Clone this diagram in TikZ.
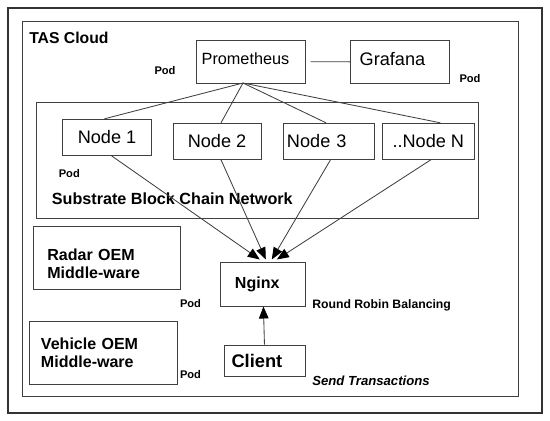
\documentclass[tikz,border=0pt]{standalone}
\usepackage{fontspec}
\setmainfont{Liberation Sans}
\usetikzlibrary{positioning,arrows.meta,calc}

\begin{document}
\begin{tikzpicture}[x=0.025cm,y=-0.025cm,
  bx/.style={draw=black!75,line width=0.7pt,inner sep=0pt},
  big/.style={font=\fontsize{12.9}{14}\selectfont},
  lbl/.style={font=\fontsize{11.4}{12.8}\selectfont\bfseries,inner sep=0pt},
  pod/.style={font=\fontsize{7.9}{9}\selectfont\bfseries,inner sep=0pt},
  ln/.style={draw=black!75,line width=0.6pt},
  ar/.style={ln,-{Triangle[length=3mm,width=2.4mm,color=black]}}]
\useasboundingbox (0,0) rectangle (550,420);
% frames
\draw[black!80,line width=0.9pt] (8,8) rectangle (542,413);
\draw[black!75,line width=0.7pt] (22,21) rectangle (518,396);
\node[lbl,font=\fontsize{11.2}{13}\selectfont\bfseries,anchor=west] (tas) at (29,38) {TAS Cloud};
% monitoring pods
\node[bx,minimum width=2.7cm,minimum height=1.075cm,inner xsep=0.1175cm,text width=2.465cm,align=left,
  text depth=0.15cm,font=\fontsize{11.55}{13}\selectfont] (prom) at (251,61.5) {Prometheus};
\node[bx,big,minimum width=2.475cm,minimum height=1.075cm,inner xsep=0.23cm,text width=2.015cm,align=left,
  text depth=0.15cm] (graf) at (400,62) {Grafana};
\draw[ln,shorten <=0.125cm] (prom) -- (graf);
\node[pod] (pod1) at (165,70.7) {Pod};
\node[pod] (pod2) at (470,79) {Pod};
% block chain network
\node[bx,minimum width=11.05cm,minimum height=2.875cm] (sbcn) at (257.8,160.5) {};
\node[bx,big,minimum width=2.225cm,minimum height=0.9cm] (n1) at (107,137.3) {Node 1};
\node[bx,big,minimum width=2.2cm,minimum height=0.9cm] (n2) at (217,141.3) {Node 2};
\node[bx,big,minimum width=2.275cm,minimum height=0.9cm,inner xsep=0.1cm,text width=2.075cm,align=left] (n3) at (328.5,141.3) {Node 3};
\node[bx,big,minimum width=2.3cm,minimum height=0.9cm] (nN) at (428.3,141.3) {..Node N};
\node[pod] (pod3) at (69.3,173.3) {Pod};
\node[lbl,font=\fontsize{11.5}{13}\selectfont\bfseries,anchor=west] (sbcnt) at (51.6,199) {Substrate Block Chain Network};
\coordinate (tap) at (243,83);
\draw[ln] (tap) -- ($(n1.north)+(-2.5,0)$);
\draw[ln] (tap) -- ($(n2.north)+(4,0)$);
\draw[ln] (tap) -- ($(n3.north)+(-2.5,0)$);
\draw[ln] (tap) -- ($(nN.north)+(12,0)$);
% middle-ware pods
\node[bx,lbl,minimum width=3.685cm,minimum height=1.565cm,inner xsep=0.3525cm,text width=2.98cm,align=left,
  text depth=0.15cm] (radar) at (107,258) {Radar OEM\\Middle-ware};
\node[pod] (pod4) at (190.5,304) {Pod};
\node[bx,lbl,minimum width=3.685cm,minimum height=1.575cm,inner xsep=0.28cm,text width=3.125cm,align=left] (veh) at (103.5,352.8) {Vehicle OEM\\Middle-ware};
\node[pod] (pod5) at (190.5,375) {Pod};
% load balancer and client
\node[bx,lbl,minimum width=2.125cm,minimum height=1.1cm,inner xsep=0.3675cm,text width=1.39cm,align=left] (ngx) at (262.8,284) {Nginx};
\node[bx,lbl,font=\fontsize{13}{15}\selectfont\bfseries,minimum width=2.0175cm,minimum height=0.775cm,inner xsep=0.175cm,text width=1.6675cm,align=left] (cli) at (264.9,360.5) {Client};
\node[pod,font=\fontsize{8.7}{10}\selectfont\bfseries,anchor=west] (rrb) at (312,305) {Round Robin Balancing};
\node[pod,font=\fontsize{9.35}{11}\selectfont\bfseries\itshape,anchor=west] (sendt) at (312,380.7) {Send Transactions};
\draw[ar] ($(n1.south)+(4.5,0)$) -- ($(ngx.north)+(-3,-2)$);
\draw[ar] ($(n2.south)+(4,0)$) -- ($(ngx.north)+(3,-2)$);
\draw[ar] ($(n3.south)+(2,0)$) -- ($(ngx.north)+(9,-2)$);
\draw[ar] ($(nN.south)+(2.5,0)$) -- ($(ngx.north)+(14,-2)$);
\draw[ar] (cli) -- (ngx);
\end{tikzpicture}
\end{document}
